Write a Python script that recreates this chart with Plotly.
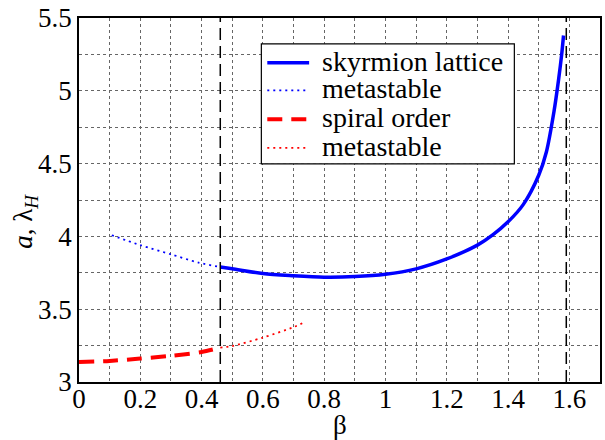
import plotly.graph_objects as go

# Data
sk_beta = [0.461, 0.5, 0.6, 0.7, 0.8, 0.9, 1.0, 1.1, 1.2, 1.3, 1.35, 1.4, 1.45, 1.5, 1.525, 1.55, 1.565, 1.575, 1.581]
sk_a = [3.79, 3.778, 3.745, 3.73, 3.72, 3.724, 3.74, 3.777, 3.845, 3.94, 4.01, 4.10, 4.22, 4.42, 4.58, 4.86, 5.08, 5.25, 5.38]

sk_meta_beta = [0.107, 0.2, 0.3, 0.39, 0.461]
sk_meta_a = [4.008, 3.94, 3.877, 3.82, 3.79]

sp_beta = [0.0, 0.1, 0.2, 0.3, 0.4, 0.461]
sp_a = [3.138, 3.145, 3.161, 3.18, 3.206, 3.236]

sp_meta_beta = [0.461, 0.5, 0.6, 0.7, 0.735]
sp_meta_a = [3.236, 3.247, 3.305, 3.377, 3.41]

phase_bounds = [0.461, 1.59]

legend_labels = ["skyrmion lattice", "metastable", "spiral order", "metastable"]

FONT = "Liberation Serif"

styles = [
    dict(color="#0000ff", width=3.5),
    dict(color="#0000ff", width=1.8, dash="2px,4px"),
    dict(color="#ff0000", width=4, dash="15px,9px"),
    dict(color="#ff0000", width=1.8, dash="2px,4px"),
]
series = [(sk_beta, sk_a), (sk_meta_beta, sk_meta_a), (sp_beta, sp_a), (sp_meta_beta, sp_meta_a)]

fig = go.Figure()
for (xs, ys), st, lab in zip(series, styles, legend_labels):
    fig.add_trace(go.Scatter(x=xs, y=ys, mode="lines", name=lab, showlegend=False,
                             line=dict(shape="spline", smoothing=0.8, **st)))

for b in phase_bounds:
    fig.add_shape(type="line", x0=b, x1=b, y0=0, y1=1, xref="x", yref="paper",
                  line=dict(color="black", width=1.5, dash="12px,6px"), layer="above")

# Legend box (drawn manually for exact spacing)
fig.add_shape(type="rect", xref="paper", yref="paper", x0=0.350, x1=0.8356, y0=0.5995, y1=0.929,
              line=dict(color="black", width=1.2), fillcolor="white", layer="above")
rows = [0.8774, 0.8011, 0.7221, 0.6431]
for ry, st, lab in zip(rows, styles, legend_labels):
    fig.add_shape(type="line", xref="paper", yref="paper", x0=0.3614, x1=0.4417, y0=ry, y1=ry,
                  line=st, layer="above")
    fig.add_annotation(text=lab, xref="paper", yref="paper", x=0.4627, y=ry + 0.004,
                       xanchor="left", yanchor="middle", showarrow=False,
                       font=dict(family=FONT, size=28, color="black"))

grid = dict(gridcolor="#666666", gridwidth=1, griddash="dot")
fig.update_xaxes(range=[0, 1.7], dtick=0.2, tick0=0, showgrid=True, **grid,
                 minor=dict(dtick=0.1, showgrid=True, **grid),
                 showline=True, mirror=True, linecolor="black", linewidth=1.5,
                 zeroline=False, ticks="", tickfont=dict(family=FONT, size=27, color="black"),
                 ticklabelstandoff=-8)
fig.update_yaxes(range=[3, 5.5], dtick=0.5, tick0=3, showgrid=True, **grid,
                 minor=dict(dtick=0.25, showgrid=True, **grid),
                 showline=True, mirror=True, linecolor="black", linewidth=1.5,
                 zeroline=False, ticks="", tickfont=dict(family=FONT, size=27, color="black"),
                 ticklabelstandoff=0)

fig.add_annotation(text="<i>a</i>, λ<sub><i>H</i></sub>", xref="paper", yref="paper",
                   x=-0.103, y=0.441, xanchor="center", yanchor="middle",
                   textangle=-90, showarrow=False,
                   font=dict(family=FONT, size=27, color="black"))
fig.add_annotation(text="β", xref="paper", yref="paper", x=0.5, y=-0.117,
                   xanchor="center", yanchor="middle", showarrow=False,
                   font=dict(family=FONT, size=27, color="black"))

fig.update_layout(
    width=605, height=440,
    margin=dict(l=79, r=3, t=15, b=58),
    paper_bgcolor="white", plot_bgcolor="white",
    font=dict(family=FONT, size=27, color="black"),
    showlegend=False,
)

fig.write_html("out.html")
